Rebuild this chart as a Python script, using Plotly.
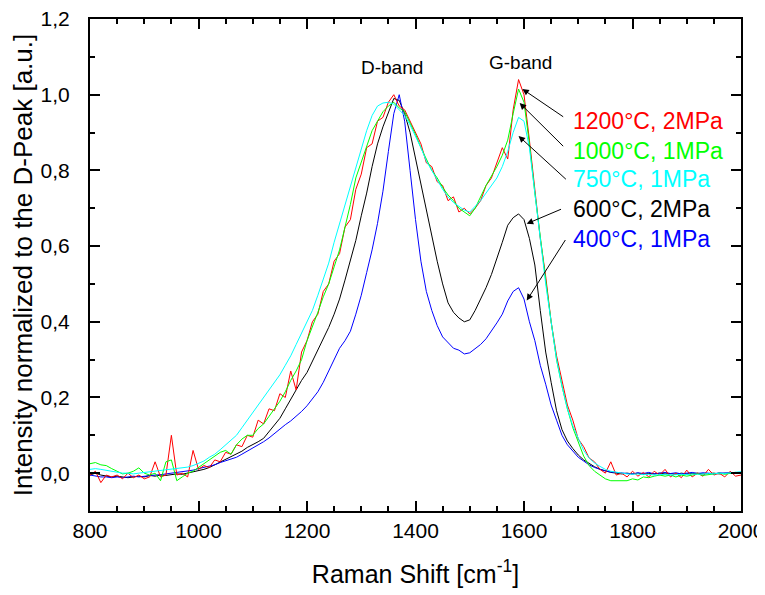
import plotly.graph_objects as go

# Raman shift grid (cm^-1), read every 10 cm^-1 from the picture
raman_shift = list(range(800, 2001, 10))

# Normalized intensities (one value per 10 cm^-1)
i_400C_1MPa = [
    -0.005, -0.008, -0.010, -0.010, -0.012, -0.010, -0.012, -0.010, -0.008, -0.010,   # 800-890
    -0.008, -0.006, -0.005, -0.004, -0.002, 0.000, 0.002, 0.004, 0.006, 0.008,        # 900-990
    0.012, 0.015, 0.018, 0.022, 0.028, 0.033, 0.038, 0.042, 0.050, 0.058,             # 1000-1090
    0.065, 0.075, 0.083, 0.093, 0.105, 0.115, 0.128, 0.138, 0.150, 0.163,             # 1100-1190
    0.178, 0.195, 0.215, 0.240, 0.270, 0.300, 0.330, 0.350, 0.375, 0.420,             # 1200-1290
    0.470, 0.530, 0.590, 0.660, 0.745, 0.850, 0.950, 1.000, 0.930, 0.800,             # 1300-1390
    0.670, 0.560, 0.480, 0.430, 0.390, 0.360, 0.345, 0.330, 0.325, 0.315,             # 1400-1490
    0.318, 0.328, 0.340, 0.355, 0.375, 0.397, 0.420, 0.455, 0.480, 0.490,             # 1500-1590
    0.460, 0.400, 0.350, 0.285, 0.235, 0.180, 0.140, 0.100, 0.075, 0.058,             # 1600-1690
    0.042, 0.032, 0.022, 0.015, 0.010, 0.006, 0.003, 0.002, 0.000, 0.001,             # 1700-1790
    -0.002, 0.001, -0.001, 0.002, -0.002, 0.000, 0.002, -0.001, 0.001, -0.002,        # 1800-1890
    0.000, 0.002, -0.001, 0.001, 0.000, -0.002, 0.001, 0.000, 0.002, 0.001,           # 1900-1990
    0.002,                                                                              # 2000
]

i_600C_2MPa = [
    -0.005, 0.000, -0.005, -0.008, -0.010, -0.008, -0.010, -0.012, -0.010, -0.008,
    -0.010, -0.006, -0.008, -0.005, -0.006, -0.004, -0.002, -0.003, 0.000, 0.002,
    0.005, 0.010, 0.015, 0.022, 0.028, 0.035, 0.042, 0.050, 0.058, 0.068,
    0.075, 0.083, 0.092, 0.110, 0.125, 0.145, 0.170, 0.195, 0.220, 0.245,
    0.266, 0.295, 0.325, 0.353, 0.385, 0.420, 0.460, 0.510, 0.560, 0.615,
    0.680, 0.740, 0.810, 0.870, 0.915, 0.955, 0.990, 0.985, 0.950, 0.900,
    0.830, 0.760, 0.690, 0.620, 0.560, 0.500, 0.450, 0.425, 0.410, 0.400,
    0.405, 0.430, 0.460, 0.490, 0.525, 0.565, 0.610, 0.655, 0.675, 0.685,
    0.670, 0.620, 0.550, 0.430, 0.320, 0.240, 0.165, 0.115, 0.085, 0.065,
    0.048, 0.035, 0.025, 0.017, 0.010, 0.005, 0.002, 0.000, -0.002, 0.000,
    -0.002, 0.000, -0.003, -0.001, -0.002, 0.000, -0.002, -0.001, -0.003, 0.000,
    -0.002, -0.001, 0.000, -0.002, -0.001, 0.000, -0.002, 0.000, -0.001, 0.000,
    0.000,
]

i_750C_1MPa = [
    0.010, 0.012, 0.010, 0.008, 0.005, 0.003, 0.000, 0.000, -0.002, 0.000,
    0.002, 0.003, 0.005, 0.008, 0.010, 0.012, 0.014, 0.015, 0.016, 0.020,
    0.025, 0.032, 0.042, 0.050, 0.062, 0.075, 0.088, 0.100, 0.120, 0.140,
    0.160, 0.180, 0.200, 0.220, 0.240, 0.260, 0.285, 0.310, 0.340, 0.370,
    0.400, 0.430, 0.470, 0.510, 0.555, 0.610, 0.660, 0.710, 0.755, 0.810,
    0.860, 0.905, 0.945, 0.970, 0.978, 0.980, 0.975, 0.960, 0.945, 0.920,
    0.890, 0.860, 0.825, 0.800, 0.775, 0.750, 0.730, 0.715, 0.705, 0.695,
    0.690, 0.705, 0.720, 0.740, 0.760, 0.780, 0.810, 0.850, 0.900, 0.940,
    0.930, 0.860, 0.740, 0.620, 0.500, 0.400, 0.300, 0.230, 0.170, 0.125,
    0.090, 0.060, 0.040, 0.027, 0.018, 0.010, 0.005, 0.002, 0.000, -0.002,
    -0.003, -0.002, -0.004, -0.003, -0.005, -0.004, -0.003, -0.005, -0.004, -0.003,
    -0.004, -0.002, -0.003, -0.002, -0.001, -0.002, 0.000, -0.001, 0.001, 0.002,
    0.004,
]

i_1000C_1MPa = [
    0.025, 0.028, 0.022, 0.020, 0.012, 0.005, -0.002, 0.000, 0.005, 0.014,
    0.000, -0.005, 0.000, -0.020, 0.030, 0.035, -0.020, -0.010, 0.000, 0.005,
    0.015, 0.025, 0.035, 0.045, 0.055, 0.060, 0.050, 0.075, 0.090, 0.100,
    0.100, 0.118, 0.130, 0.150, 0.170, 0.190, 0.215, 0.245, 0.270, 0.300,
    0.350, 0.385, 0.425, 0.466, 0.500, 0.545, 0.590, 0.650, 0.710, 0.780,
    0.820, 0.860, 0.905, 0.930, 0.955, 0.970, 0.980, 0.965, 0.955, 0.925,
    0.895, 0.860, 0.830, 0.800, 0.780, 0.755, 0.735, 0.720, 0.700, 0.690,
    0.680, 0.700, 0.730, 0.760, 0.785, 0.810, 0.840, 0.880, 0.950, 1.015,
    0.980, 0.870, 0.740, 0.620, 0.510, 0.400, 0.300, 0.230, 0.170, 0.120,
    0.080, 0.045, 0.020, 0.005, -0.005, -0.015, -0.020, -0.020, -0.018, -0.020,
    -0.015, -0.018, -0.010, -0.012, -0.008, -0.005, -0.008, -0.005, -0.010, -0.005,
    -0.008, -0.005, -0.002, -0.006, -0.004, -0.002, 0.000, -0.003, 0.000, 0.002,
    0.000,
]

i_1200C_2MPa = [
    -0.005, 0.005, -0.025, -0.005, -0.010, -0.005, -0.015, 0.000, -0.012, -0.005,
    -0.015, -0.010, 0.030, -0.010, -0.005, 0.100, -0.005, 0.000, -0.010, 0.060,
    0.010, 0.020, 0.015, 0.035, 0.030, 0.055, 0.050, 0.075, 0.070, 0.100,
    0.095, 0.140, 0.130, 0.170, 0.165, 0.210, 0.200, 0.270, 0.220, 0.320,
    0.350, 0.400, 0.420, 0.480, 0.500, 0.560, 0.580, 0.650, 0.670, 0.750,
    0.790, 0.860, 0.870, 0.930, 0.940, 0.980, 1.000, 0.970, 0.960, 0.930,
    0.900, 0.870, 0.820, 0.810, 0.770, 0.760, 0.720, 0.730, 0.690, 0.700,
    0.685, 0.700, 0.720, 0.760, 0.780, 0.820, 0.860, 0.830, 0.960, 1.040,
    1.000, 0.880, 0.750, 0.620, 0.520, 0.400, 0.310, 0.240, 0.180, 0.140,
    0.090, 0.070, 0.040, 0.030, 0.010, 0.000, 0.030, -0.005, 0.000, -0.010,
    0.005, -0.008, 0.002, -0.010, 0.005, -0.005, 0.010, -0.010, 0.000, -0.012,
    0.008, -0.010, 0.000, -0.008, 0.010, -0.005, 0.000, -0.010, 0.005, -0.008,
    -0.005,
]

series_names = ["1200°C, 2MPa", "1000°C, 1MPa", "750°C, 1MPa", "600°C, 2MPa", "400°C, 1MPa"]
series_values = [i_1200C_2MPa, i_1000C_1MPa, i_750C_1MPa, i_600C_2MPa, i_400C_1MPa]
series_colors = ["#FF0000", "#00FF00", "#00FFFF", "#000000", "#0000FF"]

x_tick_vals = [800, 1000, 1200, 1400, 1600, 1800, 2000]
x_tick_text = ["800", "1000", "1200", "1400", "1600", "1800", "2000"]
y_tick_vals = [0.0, 0.2, 0.4, 0.6, 0.8, 1.0, 1.2]
y_tick_text = ["0,0", "0,2", "0,4", "0,6", "0,8", "1,0", "1,2"]

FONT = "Liberation Sans, Arial, sans-serif"

fig = go.Figure()
draw_order = [3, 4, 0, 1, 2]
for k in draw_order:
    fig.add_trace(go.Scatter(
        x=raman_shift, y=series_values[k], mode="lines", name=series_names[k],
        line=dict(color=series_colors[k], width=1), showlegend=False,
    ))

# label text positions (data coords) and arrows (head -> curve, tail near label)
label_y = [0.931, 0.852, 0.778, 0.699, 0.620]
arrow_head = [(1597, 1.015), (1592, 0.978), (1590, 0.891), (1605, 0.659), (1605, 0.456)]
arrow_tail = [(1675, 0.939), (1675, 0.860), (1680, 0.773), (1671, 0.699), (1678, 0.620)]

annotations = []
for k in range(5):
    annotations.append(dict(
        x=arrow_head[k][0], y=arrow_head[k][1], xref="x", yref="y",
        ax=arrow_tail[k][0], ay=arrow_tail[k][1], axref="x", ayref="y",
        text="", showarrow=True, arrowhead=2, arrowsize=1.3, arrowwidth=1,
        arrowcolor="black", standoff=0, startstandoff=0,
    ))
    annotations.append(dict(
        x=1687, y=label_y[k], xref="x", yref="y", xanchor="left", yanchor="middle",
        text=series_names[k], showarrow=False,
        font=dict(family=FONT, size=23, color=series_colors[k]),
    ))
annotations.append(dict(x=1357, y=1.071, xref="x", yref="y", text="D-band", showarrow=False,
                        font=dict(family=FONT, size=19, color="black")))
annotations.append(dict(x=1594, y=1.084, xref="x", yref="y", text="G-band", showarrow=False,
                        font=dict(family=FONT, size=19, color="black")))

axis_common = dict(
    showline=True, linecolor="black", linewidth=2, mirror="allticks",
    ticks="inside", tickcolor="black", tickwidth=1.5, ticklen=10,
    showgrid=False, zeroline=False, automargin=False, ticklabeloverflow="allow",
    tickfont=dict(family=FONT, size=21, color="black"),
)

# the page adds an 8 px body margin, so the figure is sized to fit the window
fig.update_layout(
    width=757, height=587,
    margin=dict(l=82, r=24, t=11, b=84),
    paper_bgcolor="white", plot_bgcolor="white",
    annotations=annotations,
    xaxis=dict(
        range=[800, 2000], tickvals=x_tick_vals, ticktext=x_tick_text,
        minor=dict(dtick=50, ticks="inside", ticklen=5, tickcolor="black", tickwidth=1.5),
        title=dict(text="Raman Shift [cm<sup>-1</sup>]", font=dict(family=FONT, size=25, color="black"), standoff=24),
        ticklabelstandoff=0,
        **axis_common,
    ),
    yaxis=dict(
        range=[-0.1, 1.2], tickvals=y_tick_vals, ticktext=y_tick_text,
        minor=dict(dtick=0.1, tick0=0, ticks="inside", ticklen=5, tickcolor="black", tickwidth=1.5),
        title=dict(text="Intensity normalized to the D-Peak [a.u.]", font=dict(family=FONT, size=26, color="black"), standoff=4),
        ticklabelstandoff=14,
        **axis_common,
    ),
)

fig.write_html("out.html")
